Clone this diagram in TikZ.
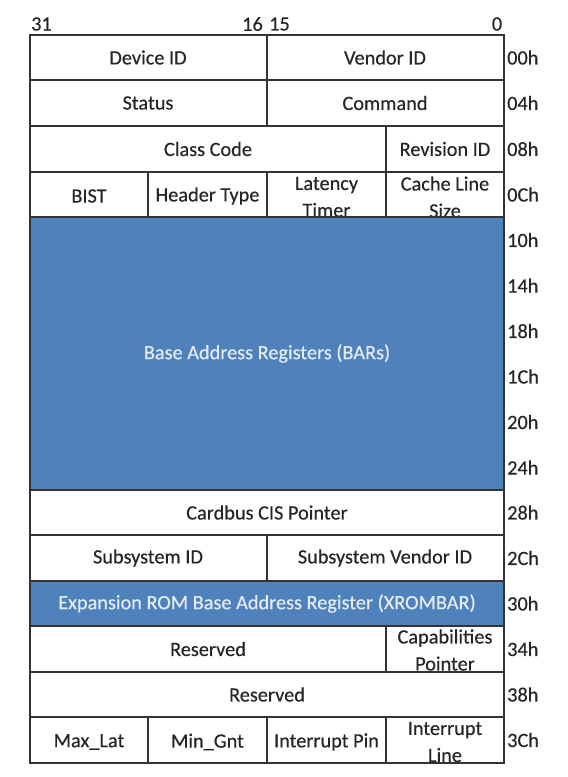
\documentclass[tikz,border=0pt]{standalone}
\usepackage{fontspec}
\setmainfont{Carlito}[FakeBold=0.4]
\definecolor{barblue}{HTML}{4F81BD}
\definecolor{bartext}{HTML}{E4ECF7}
\definecolor{ink}{HTML}{262626}
\tikzset{
  grid/.style={draw=black!80,line width=1.3pt},
  cell/.style={text=ink,inner sep=0pt},
  twoline/.style={cell,align=center},
  bartxt/.style={cell,text=bartext},
  offs/.style={cell,anchor=west},
}
\begin{document}
\begin{tikzpicture}[x=1pt,y=-1pt,font=\fontsize{20.3}{27}\selectfont]
\useasboundingbox (0,0) rectangle (568,777);
% blue rows
\fill[barblue] (30,217) rectangle (504,490);
\fill[barblue] (30,581) rectangle (504,626);
% bit numbers
\node[cell,anchor=west] (b31) at (31,24) {31};
\node[cell,anchor=east] (b16) at (263,24) {16};
\node[cell,anchor=west] (b15) at (269,24) {15};
\node[cell] (b0) at (497,24) {0};
% cells
\node[cell] (devid) at (148,57.5) {Device ID};
\node[cell] (venid) at (385,57.5) {Vendor ID};
\node[cell] (stat) at (148,103) {Status};
\node[cell] (cmd) at (385,103) {Command};
\node[cell] (class) at (208,149) {Class Code};
\node[cell] (revid) at (445,149) {Revision ID};
\node[cell] (bist) at (89,196) {BIST};
\node[cell] (htype) at (207.5,196) {Header Type};
\begin{scope}
\clip (267,172) rectangle (386,217);
\node[twoline] (lat) at (326.5,197) {Latency\\Timer};
\end{scope}
\begin{scope}
\clip (386,172) rectangle (504,217);
\node[twoline] (cls) at (445,197) {Cache Line\\Size};
\end{scope}
\node[bartxt] (bars) at (267,353.5) {Base Address Registers (BARs)};
\node[cell] (cis) at (267,512.5) {Cardbus CIS Pointer};
\node[cell] (subid) at (148,558) {Subsystem ID};
\node[cell] (subven) at (385,558) {Subsystem Vendor ID};
\node[bartxt] (xrom) at (267,603.5) {Expansion ROM Base Address Register (XROMBAR)};
\node[cell] (res1) at (208,649) {Reserved};
\begin{scope}
\clip (386,626) rectangle (504,672);
\node[twoline] (cap) at (445,650) {Capabilities\\Pointer};
\end{scope}
\node[cell] (res2) at (267,694.5) {Reserved};
\node[cell] (maxlat) at (89,742) {Max\_Lat};
\node[cell] (mingnt) at (207.5,742) {Min\_Gnt};
\node[cell] (ipin) at (326.5,742) {Interrupt Pin};
\begin{scope}
\clip (386,717) rectangle (504,763);
\node[twoline] (iline) at (445,742) {Interrupt\\Line};
\end{scope}
% offsets
\foreach \o/\y in {00h/57.5,04h/103,08h/149,0Ch/194.5,10h/240,14h/285.5,18h/331,1Ch/376.5,
  20h/422,24h/467.5,28h/512.5,2Ch/558,30h/603.5,34h/649,38h/694.5,3Ch/740}
  \node[offs] (o\o) at (507,\y) {\o};
% grid lines
\draw[grid] (30,35) rectangle (504,763);
\foreach \y in {80,126,172,217,490,535,581,626,672,717}
  \draw[grid] (30,\y)--(504,\y);
\draw[grid] (267,35)--(267,126);
\draw[grid] (386,126)--(386,217);
\draw[grid] (148,172)--(148,217) (267,172)--(267,217);
\draw[grid] (267,535)--(267,581);
\draw[grid] (386,626)--(386,672);
\draw[grid] (148,717)--(148,763) (267,717)--(267,763) (386,717)--(386,763);
\end{tikzpicture}
\end{document}
